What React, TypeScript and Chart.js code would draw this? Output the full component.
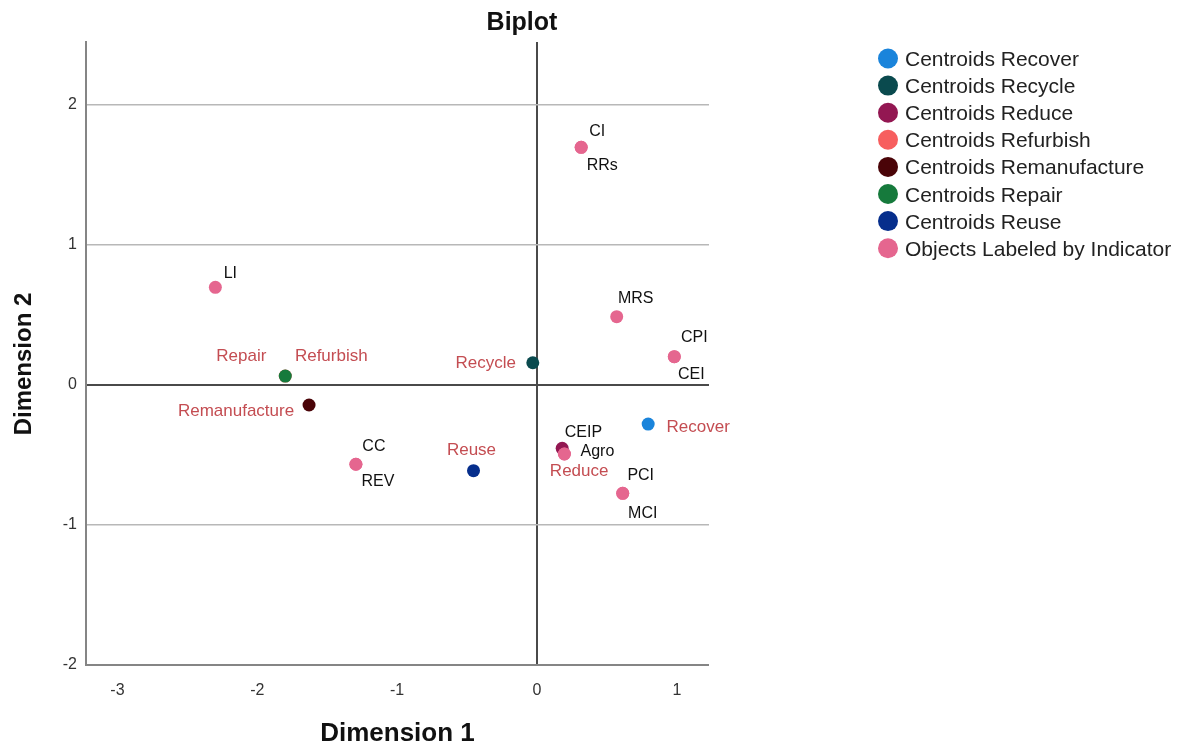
import React, { useEffect, useRef } from 'react';
import { Chart, registerables } from 'chart.js';

Chart.register(...registerables);

// ---------- data ----------
const chartTitle = 'Biplot';
const xAxisTitle = 'Dimension 1';
const yAxisTitle = 'Dimension 2';

const centroidNames = ['Recover', 'Recycle', 'Reduce', 'Refurbish', 'Remanufacture', 'Repair', 'Reuse'];
const centroidX = [0.795, -0.03, 0.18, -1.8, -1.63, -1.8, -0.454];
const centroidY = [-0.279, 0.159, -0.452, 0.064, -0.143, 0.064, -0.612];

const objectLegendLabel = 'Objects Labeled by Indicator';
const objectLabels = ['LI', 'CC', 'REV', 'CI', 'RRs', 'MRS', 'CPI', 'CEI', 'CEIP', 'Agro', 'PCI', 'MCI'];
const objectX = [-2.3, -1.295, -1.295, 0.316, 0.316, 0.57, 0.982, 0.982, 0.196, 0.196, 0.613, 0.613];
const objectY = [0.698, -0.566, -0.566, 1.698, 1.698, 0.488, 0.202, 0.202, -0.493, -0.493, -0.774, -0.774];

const xTickValues = [-3, -2, -1, 0, 1];
const yTickValues = [-2, -1, 0, 1, 2];
const xMin = -3.225;
const xMax = 1.23;
const yMin = -2;
const yMax = 2.45;

// ---------- styles ----------
const FONT = '"Liberation Sans", Arial, Helvetica, sans-serif';
const centroidColors = ['#1a84db', '#0a4a4e', '#931752', '#f75e5e', '#4a0408', '#167a3c', '#062e8c'];
const objectColor = '#e5668f';
const centroidLabelColor = '#c44d52';
const objectLabelColor = '#111111';

// label offsets (pixels, relative to point centre) – placement only
const labelOffsets: Record<string, [number, number]> = {
  LI: [15, -14],
  CC: [18, -18],
  REV: [22, 17],
  CI: [16, -16],
  RRs: [21, 18],
  MRS: [19, -18],
  CPI: [20, -19],
  CEI: [17, 18],
  CEIP: [19, -21],
  Agro: [33, -2],
  PCI: [18, -18],
  MCI: [20, 20],
  Recover: [50, 3],
  Recycle: [-47, 1],
  Reduce: [17, 23],
  Refurbish: [46, -20],
  Remanufacture: [-73, 6],
  Repair: [-44, -20],
  Reuse: [-2, -20],
};

const pointLabelPlugin = {
  id: 'pointLabelPlugin',
  afterDatasetsDraw(chart: any) {
    const ctx = chart.ctx;
    ctx.save();
    ctx.textAlign = 'center';
    ctx.textBaseline = 'middle';
    chart.data.datasets.forEach((ds: any, di: number) => {
      const meta = chart.getDatasetMeta(di);
      ctx.font = ds.labelFont;
      ctx.fillStyle = ds.labelColor;
      meta.data.forEach((el: any, i: number) => {
        const t = ds.pointLabels[i];
        const off = labelOffsets[t] || [0, -18];
        ctx.fillText(t, el.x + off[0], el.y + off[1]);
      });
    });
    ctx.restore();
  },
};

const legendAndTitlePlugin = {
  id: 'legendAndTitlePlugin',
  afterDraw(chart: any) {
    const ctx = chart.ctx;
    ctx.save();
    // title
    ctx.font = `bold 25px ${FONT}`;
    ctx.fillStyle = '#111';
    ctx.textAlign = 'center';
    ctx.textBaseline = 'alphabetic';
    ctx.fillText(chartTitle, 522, 30);
    // y-axis title
    ctx.save();
    ctx.translate(31, 364);
    ctx.rotate(-Math.PI / 2);
    ctx.font = `bold 24px ${FONT}`;
    ctx.fillText(yAxisTitle, 0, 0);
    ctx.restore();
    // legend
    ctx.font = `21px ${FONT}`;
    ctx.textAlign = 'left';
    chart.data.datasets.forEach((ds: any, i: number) => {
      const cy = 58.5 + i * 27.1;
      ctx.beginPath();
      ctx.arc(888, cy, 10, 0, Math.PI * 2);
      ctx.fillStyle = ds.backgroundColor;
      ctx.fill();
      ctx.fillStyle = '#222';
      ctx.fillText(ds.label, 905, cy + 7.5);
    });
    ctx.restore();
  },
};

export default function App() {
  const ref = useRef<HTMLCanvasElement>(null);

  useEffect(() => {
    const canvas = ref.current;
    if (!canvas) return;

    const datasets: any[] = centroidNames.map((name, i) => ({
      label: `Centroids ${name}`,
      data: [{ x: centroidX[i], y: centroidY[i] }],
      pointLabels: [name],
      labelColor: centroidLabelColor,
      labelFont: `17px ${FONT}`,
      backgroundColor: centroidColors[i],
      borderColor: centroidColors[i],
      pointRadius: 6.5,
      pointBorderWidth: 0,
      order: name === 'Repair' ? 1 : name === 'Refurbish' ? 3 : 2,
    }));
    datasets.push({
      label: objectLegendLabel,
      data: objectX.map((x, i) => ({ x, y: objectY[i] })),
      pointLabels: objectLabels,
      labelColor: objectLabelColor,
      labelFont: `16px ${FONT}`,
      backgroundColor: objectColor,
      borderColor: objectColor,
      pointRadius: 6.5,
      pointBorderWidth: 0,
      order: 0,
    });

    const chart = new Chart(canvas, {
      type: 'scatter',
      data: { datasets },
      plugins: [pointLabelPlugin, legendAndTitlePlugin],
      options: {
        animation: false,
        responsive: false,
        maintainAspectRatio: false,
        layout: { padding: { left: 0, top: 42, right: 475, bottom: 0 } },
        plugins: {
          legend: { display: false },
          title: { display: false },
          tooltip: { enabled: false },
        },
        scales: {
          x: {
            type: 'linear',
            min: xMin,
            max: xMax,
            afterBuildTicks: (s: any) => {
              s.ticks = xTickValues.map((v) => ({ value: v }));
            },
            afterFit: (s: any) => {
              s.height = 84;
            },
            grid: {
              drawTicks: false,
              color: (c: any) => (c.tick && c.tick.value === 0 ? '#4a4a4a' : 'rgba(0,0,0,0)'),
              lineWidth: (c: any) => (c.tick && c.tick.value === 0 ? 2 : 0),
            },
            border: { display: true, color: '#858585', width: 2 },
            ticks: {
              padding: 16,
              color: '#333',
              font: { family: FONT, size: 16 },
              callback: (v: any) => String(v),
            },
            title: {
              display: true,
              text: xAxisTitle,
              color: '#111',
              font: { family: FONT, size: 26, weight: 'bold' },
              padding: { top: 0, bottom: 0 },
            },
          },
          y: {
            type: 'linear',
            min: yMin,
            max: yMax,
            afterBuildTicks: (s: any) => {
              s.ticks = yTickValues.map((v) => ({ value: v }));
            },
            afterFit: (s: any) => {
              s.width = 86;
            },
            grid: {
              drawTicks: false,
              color: (c: any) => {
                const v = c.tick ? c.tick.value : null;
                if (v === 0) return '#4a4a4a';
                if (v === -2) return 'rgba(0,0,0,0)';
                return '#b8b8b8';
              },
              lineWidth: (c: any) => (c.tick && c.tick.value === 0 ? 2 : 1.5),
            },
            border: { display: true, color: '#858585', width: 2 },
            ticks: {
              padding: 9,
              color: '#333',
              font: { family: FONT, size: 16 },
              callback: (v: any) => String(v),
            },
            title: { display: false },
          },
        },
      } as any,
    });

    return () => chart.destroy();
  }, []);

  return (
    <div style={{ position: 'fixed', left: 0, top: 0, width: 1184, height: 749, background: '#fff' }}>
      <canvas ref={ref} width={1184} height={749} style={{ display: 'block', width: 1184, height: 749 }} />
    </div>
  );
}
